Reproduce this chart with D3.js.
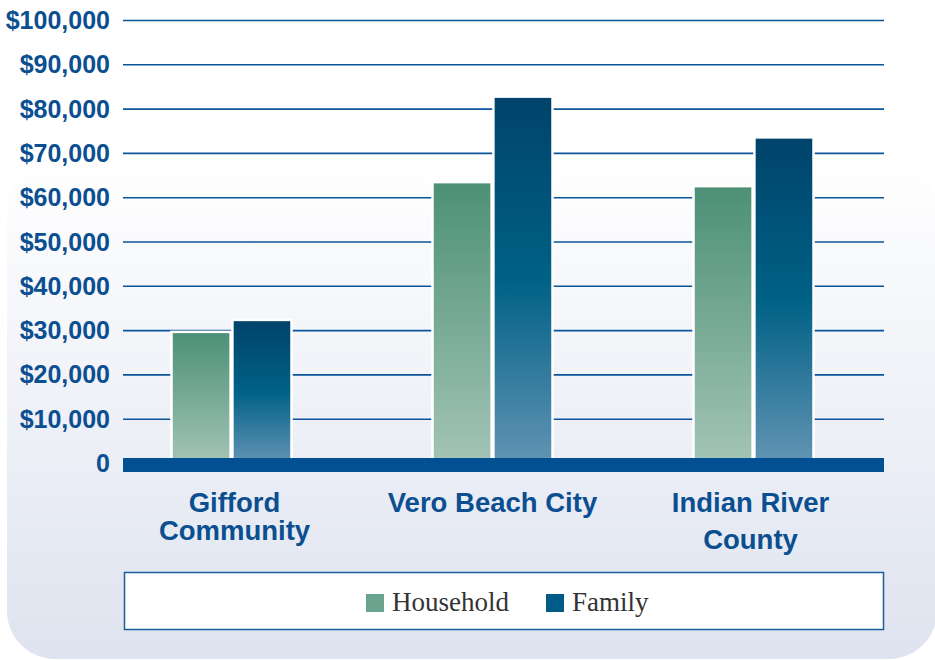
<!DOCTYPE html>
<html>
<head>
<meta charset="utf-8">
<script src="https://cdn.jsdelivr.net/npm/d3@7"></script>
<style>
  body { margin: 0; background: #fff; }
  svg { display: block; }
</style>
</head>
<body>
<div id="chart"></div>
<script>
// data
var places = ["Gifford Community", "Vero Beach City", "Indian River County"];
var placeLines = [["Gifford", "Community"], ["Vero Beach City"], ["Indian River", "County"]];
var seriesNames = ["Household", "Family"];
var household = [29600, 63400, 62500];
var family = [32300, 82700, 73500];
var yTicks = [0, 10000, 20000, 30000, 40000, 50000, 60000, 70000, 80000, 90000, 100000];

var svgWidth = 935;
var svgHeight = 660;

var svg = d3.select("#chart")
    .append("svg")
    .attr("width", svgWidth)
    .attr("height", svgHeight);

var defs = svg.append("defs");

// panel background gradient
var bg = defs.append("linearGradient")
    .attr("id", "bgGrad")
    .attr("x1", 0).attr("y1", 0).attr("x2", 0).attr("y2", 1);
bg.append("stop").attr("offset", "0%").attr("stop-color", "#ffffff");
bg.append("stop").attr("offset", "100%").attr("stop-color", "#dee3ef");

var hhGrad = defs.append("linearGradient")
    .attr("id", "hhGrad")
    .attr("x1", 0).attr("y1", 0).attr("x2", 0).attr("y2", 1);
hhGrad.append("stop").attr("offset", "0%").attr("stop-color", "#4c9076");
hhGrad.append("stop").attr("offset", "100%").attr("stop-color", "#a3c4b7");

var famGrad = defs.append("linearGradient")
    .attr("id", "famGrad")
    .attr("x1", 0).attr("y1", 0).attr("x2", 0).attr("y2", 1);
famGrad.append("stop").attr("offset", "0%").attr("stop-color", "#00436b");
famGrad.append("stop").attr("offset", "50%").attr("stop-color", "#006186");
famGrad.append("stop").attr("offset", "100%").attr("stop-color", "#6294b4");

// rounded panel
svg.append("rect")
    .attr("x", 7)
    .attr("y", 160)
    .attr("width", 930)
    .attr("height", 499)
    .attr("rx", 48)
    .attr("fill", "url(#bgGrad)");

// scales
var y = d3.scaleLinear()
    .domain([0, 100000])
    .range([463, 20]);

var x0 = d3.scaleBand()
    .domain(places)
    .range([101, 884]);

var x1 = d3.scaleBand()
    .domain(seriesNames)
    .range([0, 120])
    .paddingInner(0.03);

var fmt = function(d) { return d === 0 ? "0" : "$" + d3.format(",")(d); };

// grid lines
var yAxis = svg.append("g")
    .attr("transform", "translate(123,0)")
    .call(d3.axisRight(y).tickValues(yTicks).tickSize(761).tickFormat(""));
yAxis.select(".domain").remove();
yAxis.selectAll(".tick line")
    .attr("stroke", "#0a559a")
    .attr("stroke-width", 1.6);

// tick labels
svg.append("g")
    .selectAll("text")
    .data(yTicks)
    .enter()
    .append("text")
        .attr("x", 110)
        .attr("y", d => y(d))
        .attr("dy", "0.36em")
        .attr("text-anchor", "end")
        .attr("font-family", "Liberation Sans, Arial, sans-serif")
        .attr("font-weight", "bold")
        .attr("font-size", "25px")
        .attr("fill", "#0b4f91")
        .text(fmt);

// bars
var rows = places.map(function(p, i) {
    return { place: p, values: [
        { key: "Household", value: household[i] },
        { key: "Family", value: family[i] }
    ]};
});

var groups = svg.selectAll(".grp")
    .data(rows)
    .enter()
    .append("g")
    .attr("class", "grp")
    .attr("transform", d => `translate(${x0(d.place) + x0.bandwidth() / 2 - 60},0)`);

groups.selectAll("rect")
    .data(d => d.values)
    .enter()
    .append("rect")
        .attr("x", d => x1(d.key))
        .attr("y", d => y(d.value))
        .attr("width", x1.bandwidth())
        .attr("height", d => y(0) - y(d.value))
        .attr("fill", d => d.key === "Household" ? "url(#hhGrad)" : "url(#famGrad)")
        .attr("stroke", "#ffffff")
        .attr("stroke-width", 2.5);

// thick baseline
svg.append("rect")
    .attr("x", 123)
    .attr("y", y(0) - 5)
    .attr("width", 761)
    .attr("height", 14)
    .attr("fill", "#025092");

// category labels
var catGap = [28, 28, 37];
var catShift = [3, 0, -3];
placeLines.forEach(function(lines, i) {
    var cx = x0(places[i]) + x0.bandwidth() / 2 + catShift[i];
    var t = svg.append("text")
        .attr("x", cx)
        .attr("y", 512)
        .attr("text-anchor", "middle")
        .attr("font-family", "Liberation Sans, Arial, sans-serif")
        .attr("font-weight", "bold")
        .attr("font-size", "27.5px")
        .attr("fill", "#0b4f91");
    lines.forEach(function(l, j) {
        t.append("tspan")
            .attr("x", cx)
            .attr("y", 512 + j * catGap[i])
            .text(l);
    });
});

// legend
svg.append("rect")
    .attr("x", 124.5)
    .attr("y", 572.5)
    .attr("width", 759)
    .attr("height", 57)
    .attr("fill", "#ffffff")
    .attr("stroke", "#1b5e9e")
    .attr("stroke-width", 1.5);

var legendX = [366, 546];
var legendColors = ["#6aa48e", "#005b87"];
var legend = svg.selectAll(".legend")
    .data(seriesNames)
    .enter()
    .append("g")
    .attr("class", "legend")
    .attr("transform", (d, i) => `translate(${legendX[i]},594)`);

legend.append("rect")
    .attr("width", 18)
    .attr("height", 18)
    .attr("fill", (d, i) => legendColors[i]);

legend.append("text")
    .attr("x", 26)
    .attr("y", 17)
    .attr("font-family", "Liberation Serif, Times New Roman, serif")
    .attr("font-size", "27px")
    .attr("fill", "#333333")
    .text(d => d);
</script>
</body>
</html>
